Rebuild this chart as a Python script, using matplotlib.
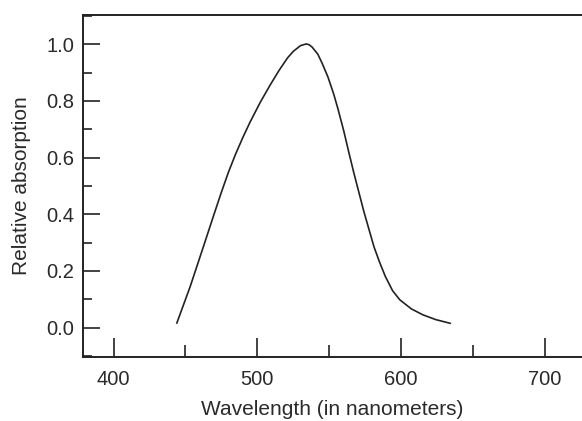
"""Relative absorption spectrum, redrawn from a scanned textbook figure."""

import matplotlib

matplotlib.use("Agg")

import matplotlib.pyplot as plt
from matplotlib.ticker import MultipleLocator

INK = "#222222"
TEXT = "#2a2a2a"

# readings (nm, relative absorption)
wavelength = [444, 453.3, 462.5, 470, 475, 480, 485, 490, 495, 502, 509,
              515, 521, 525, 530, 534, 536, 538, 542, 545, 549, 553, 556,
              560, 563.5, 567, 574, 581, 585, 589, 594, 599, 607, 615, 624,
              634]
absorption = [0.016, 0.145, 0.286, 0.402, 0.478, 0.55, 0.614, 0.672,
              0.726, 0.795, 0.857, 0.907, 0.952, 0.975, 0.995, 1.001, 0.998,
              0.99, 0.965, 0.933, 0.885, 0.825, 0.772, 0.695, 0.62, 0.547,
              0.41, 0.286, 0.23, 0.18, 0.13, 0.098, 0.066, 0.045, 0.028,
              0.015]

x_major = [400, 500, 600, 700]
y_major = [0.0, 0.2, 0.4, 0.6, 0.8, 1.0]

plt.rcParams["font.family"] = ["Liberation Sans", "DejaVu Sans"]

fig = plt.figure(figsize=(5.82, 4.21), dpi=100, facecolor="white")
ax = fig.add_axes([0.142, 0.152, 0.858, 0.813])

ax.plot(wavelength, absorption, color=INK, linewidth=1.2)

ax.set_xlim(378.5, 725.7)
ax.set_ylim(-0.104, 1.104)
ax.set_xticks(x_major)
ax.set_yticks(y_major)
ax.xaxis.set_minor_locator(MultipleLocator(50))
ax.yaxis.set_minor_locator(MultipleLocator(0.1))
ax.set_yticklabels([f"{v:.1f}" for v in y_major])

ax.tick_params(axis="both", which="both", direction="in", colors=INK,
               labelcolor=TEXT, labelsize=14.5, width=1.2)
ax.tick_params(axis="x", which="major", length=13.5, pad=9)
ax.tick_params(axis="x", which="minor", length=8.5)
ax.tick_params(axis="y", which="major", length=12, pad=6)
ax.tick_params(axis="y", which="minor", length=6.5)

for side in ("left", "bottom", "top"):
    ax.spines[side].set_color(INK)
    ax.spines[side].set_linewidth(1.4)
ax.spines["right"].set_visible(False)

ax.set_xlabel("Wavelength (in nanometers)", fontsize=15, color=TEXT,
              labelpad=8)
ax.set_ylabel("Relative absorption", fontsize=15, color=TEXT, labelpad=11)

fig.savefig("out.png", dpi=100, facecolor="white")
